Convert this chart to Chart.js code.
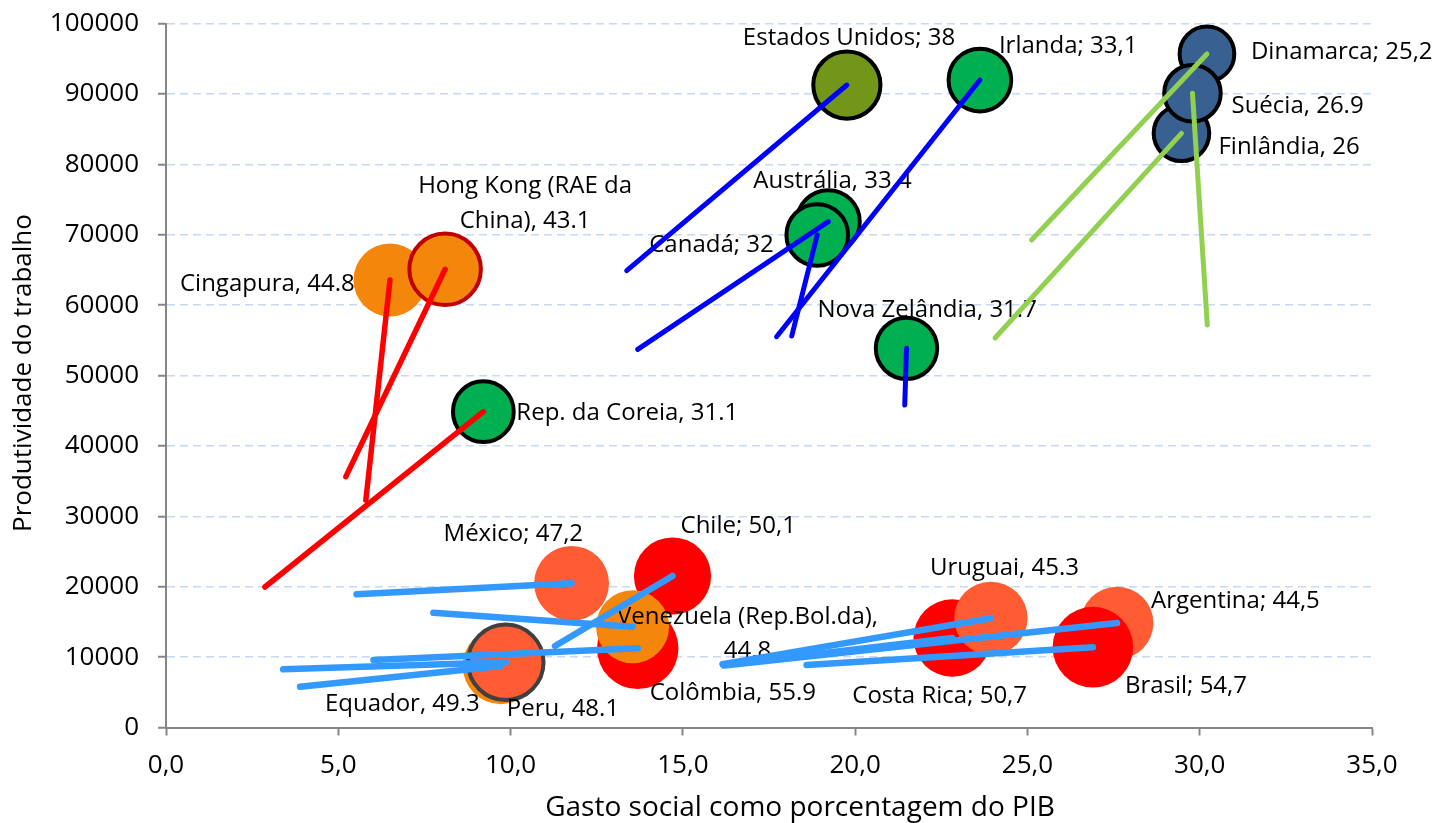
<!DOCTYPE html>
<html lang="pt">
<head>
<meta charset="utf-8">
<title>Gasto social e produtividade do trabalho</title>
<script src="https://cdn.jsdelivr.net/npm/chart.js@4.4.1/dist/chart.umd.min.js"></script>
<style>
  html, body { margin: 0; padding: 0; background: #ffffff; }
  canvas { display: block; }
</style>
</head>
<body>
<canvas id="chart" width="1439" height="823"></canvas>
<script>
// ---- Data -------------------------------------------------------------
const countries = [
  'Estados Unidos', 'Irlanda', 'Austrália', 'Canadá', 'Nova Zelândia',
  'Dinamarca', 'Finlândia', 'Suécia',
  'Cingapura', 'Hong Kong (RAE da\nChina)', 'Rep. da Coreia',
  'México', 'Chile', 'Colômbia', 'Venezuela (Rep.Bol.da)', 'Equador', 'Peru',
  'Costa Rica', 'Uruguai', 'Argentina', 'Brasil'
];
const groups = [
  'anglo', 'anglo', 'anglo', 'anglo', 'anglo',
  'nordic', 'nordic', 'nordic',
  'asia', 'asia', 'asia',
  'latam', 'latam', 'latam', 'latam', 'latam', 'latam',
  'latam', 'latam', 'latam', 'latam'
];
// social spending (% of GDP), latest year
const socialSpending = [
  19.76, 23.62, 19.22, 18.90, 21.49,
  30.21, 29.47, 29.79,
  6.50, 8.10, 9.21,
  11.77, 14.70, 13.69, 13.54, 9.72, 9.86,
  22.82, 23.94, 27.60, 26.90
];
// labour productivity, latest year
const productivity = [
  91260, 91970, 71850, 69960, 53860,
  95670, 84400, 90090,
  63570, 65090, 44860,
  20480, 21520, 11250, 14320, 8740, 9260,
  12710, 15510, 14840, 11410
];
// social spending (% of GDP), starting year
const startSpending = [
  13.37, 17.72, 13.69, 18.16, 21.44,
  25.12, 24.06, 30.22,
  5.80, 5.22, 2.87,
  5.53, 11.29, 6.02, 7.76, 3.89, 3.40,
  16.20, 16.15, 16.20, 18.59
];
// labour productivity, starting year
const startProductivity = [
  64900, 55510, 53720, 55610, 45810,
  69250, 55330, 57170,
  32320, 35630, 19960,
  18920, 11580, 9590, 16310, 5800, 8270,
  8900, 9000, 8800, 8880
];
// Gini index (bubble size)
const gini = [
  38, 33.1, 33.4, 32, 31.7,
  25.2, 26, 26.9,
  44.8, 43.1, 31.1,
  47.2, 50.1, 55.9, 44.8, 49.3, 48.1,
  50.7, 45.3, 44.5, 54.7
];
// label separator and decimal mark used in each country's label
const labelSeparator = [
  '; ', '; ', ', ', '; ', ', ',
  '; ', ', ', ', ',
  ', ', ', ', ', ',
  '; ', '; ', ', ', ',\n', ', ', ', ',
  '; ', ', ', '; ', '; '
];
const decimalMark = [
  ',', ',', '.', ',', '.',
  ',', '.', '.',
  '.', '.', '.',
  ',', ',', '.', '.', '.', '.',
  ',', '.', ',', ','
];
const xTicks = [0, 5, 10, 15, 20, 25, 30, 35];
const yTicks = [0, 10000, 20000, 30000, 40000, 50000, 60000, 70000, 80000, 90000, 100000];

// ---- Styles -----------------------------------------------------------
const lineStyle = {
  anglo:  { color: '#0000FF', width: 5 },
  nordic: { color: '#92D050', width: 5 },
  asia:   { color: '#FF0000', width: 5.5 },
  latam:  { color: '#3399FF', width: 6.5 }
};
const GREEN = '#00B050', NAVY = '#386192', ORANGE = '#F4870B', CORAL = '#FF5C33', RED = '#FF0000';
const bubbleStyle = {
  'Estados Unidos': { fill: '#72961A', border: '#000000', bw: 4 },
  'Irlanda':        { fill: GREEN, border: '#000000', bw: 4 },
  'Austrália':      { fill: GREEN, border: '#000000', bw: 4 },
  'Canadá':         { fill: GREEN, border: '#000000', bw: 4 },
  'Nova Zelândia':  { fill: GREEN, border: '#000000', bw: 4 },
  'Dinamarca':      { fill: NAVY, border: '#000000', bw: 4 },
  'Finlândia':      { fill: NAVY, border: '#000000', bw: 4 },
  'Suécia':         { fill: NAVY, border: '#000000', bw: 4 },
  'Cingapura':      { fill: ORANGE, border: ORANGE, bw: 0 },
  'Hong Kong (RAE da\nChina)': { fill: ORANGE, border: '#C00000', bw: 4 },
  'Rep. da Coreia': { fill: GREEN, border: '#000000', bw: 4 },
  'México':         { fill: CORAL, border: CORAL, bw: 0 },
  'Chile':          { fill: RED, border: RED, bw: 0 },
  'Colômbia':       { fill: RED, border: RED, bw: 0 },
  'Venezuela (Rep.Bol.da)': { fill: ORANGE, border: ORANGE, bw: 0 },
  'Equador':        { fill: ORANGE, border: ORANGE, bw: 0 },
  'Peru':           { fill: CORAL, border: '#404040', bw: 4 },
  'Costa Rica':     { fill: RED, border: RED, bw: 0 },
  'Uruguai':        { fill: CORAL, border: CORAL, bw: 0 },
  'Argentina':      { fill: CORAL, border: CORAL, bw: 0 },
  'Brasil':         { fill: RED, border: RED, bw: 0 }
};
// label anchor relative to the bubble centre: [dx, dy(baseline), align]
const labelPlacement = {
  'Estados Unidos': [-104, -40, 'left'],
  'Irlanda':        [19, -27, 'left'],
  'Austrália':      [-75, -34, 'left'],
  'Canadá':         [-168, 17, 'left'],
  'Nova Zelândia':  [-89, -31, 'left'],
  'Dinamarca':      [44, 5, 'left'],
  'Finlândia':      [37, 21, 'left'],
  'Suécia':         [39, 20, 'left'],
  'Cingapura':      [-210, 11, 'left'],
  'Hong Kong (RAE da\nChina)': [80, -76, 'center'],
  'Rep. da Coreia': [33, 8, 'left'],
  'México':         [-128, -42, 'left'],
  'Chile':          [8, -43, 'left'],
  'Colômbia':       [12, 52, 'left'],
  'Venezuela (Rep.Bol.da)': [115, -3, 'center'],
  'Equador':        [-176, 45, 'left'],
  'Peru':           [1, 54, 'left'],
  'Costa Rica':     [-100, 65, 'left'],
  'Uruguai':        [-61, -43, 'left'],
  'Argentina':      [34, -15, 'left'],
  'Brasil':         [32, 46, 'left']
};
const BUBBLE_SCALE = 5.45;
const FONT = '"Open Sans", Lato, sans-serif';

function labelFor(i) {
  return countries[i] + labelSeparator[i] + String(gini[i]).replace('.', decimalMark[i]);
}

// ---- Datasets ---------------------------------------------------------
const bubbleDataset = {
  type: 'bubble',
  order: 2,
  clip: false,
  data: countries.map((c, i) => ({ x: socialSpending[i], y: productivity[i], r: BUBBLE_SCALE * Math.sqrt(gini[i]) })),
  backgroundColor: countries.map(c => bubbleStyle[c].fill),
  borderColor: countries.map(c => bubbleStyle[c].border),
  borderWidth: countries.map(c => bubbleStyle[c].bw)
};
const pathDatasets = countries.map((c, i) => ({
  type: 'line',
  order: 1,
  data: [
    { x: startSpending[i], y: startProductivity[i] },
    { x: socialSpending[i], y: productivity[i] }
  ],
  borderColor: lineStyle[groups[i]].color,
  borderWidth: lineStyle[groups[i]].width,
  borderCapStyle: 'round',
  pointRadius: 0,
  fill: false,
  tension: 0
}));

// ---- Plugins ----------------------------------------------------------
const countryLabels = {
  id: 'countryLabels',
  afterDatasetDraw(chart, args) {
    if (args.index !== 0) return;
    const ctx = chart.ctx;
    ctx.save();
    ctx.font = '24px ' + FONT;
    ctx.fillStyle = '#000000';
    ctx.textBaseline = 'alphabetic';
    args.meta.data.forEach((pt, i) => {
      const [dx, dy, align] = labelPlacement[countries[i]];
      ctx.textAlign = align;
      labelFor(i).split('\n').forEach((line, k) => {
        ctx.fillText(line, pt.x + dx, pt.y + dy + k * 34.4);
      });
    });
    ctx.restore();
  }
};
const axisTitles = {
  id: 'axisTitles',
  afterDraw(chart) {
    const ctx = chart.ctx;
    ctx.save();
    ctx.fillStyle = '#000000';
    ctx.textAlign = 'center';
    ctx.textBaseline = 'middle';
    ctx.font = '28px ' + FONT;
    ctx.fillText('Gasto social como porcentagem do PIB', 800, 808);
    ctx.font = '26px ' + FONT;
    ctx.translate(24, 373);
    ctx.rotate(-Math.PI / 2);
    ctx.fillText('Produtividade do trabalho', 0, 0);
    ctx.restore();
  }
};

// ---- Chart ------------------------------------------------------------
new Chart(document.getElementById('chart'), {
  data: { datasets: [bubbleDataset, ...pathDatasets] },
  plugins: [countryLabels, axisTitles],
  options: {
    responsive: false,
    devicePixelRatio: 1,
    animation: false,
    events: [],
    layout: { autoPadding: false, padding: { left: 0, right: 67, top: 23.5, bottom: 0 } },
    plugins: { legend: { display: false }, tooltip: { enabled: false } },
    scales: {
      x: {
        type: 'linear',
        min: xTicks[0],
        max: xTicks[xTicks.length - 1],
        afterBuildTicks(scale) { scale.ticks = xTicks.map(v => ({ value: v })); },
        afterFit(scale) { scale.height = 95.5; scale.paddingLeft = 0; scale.paddingRight = 0; },
        ticks: {
          color: '#000000',
          font: { family: FONT, size: 26 },
          padding: 14,
          callback: v => v.toFixed(1).replace('.', ',')
        },
        grid: { drawOnChartArea: false, tickColor: '#868686', tickLength: 8, tickWidth: 2 },
        border: { color: '#868686', width: 2 }
      },
      y: {
        type: 'linear',
        min: yTicks[0],
        max: yTicks[yTicks.length - 1],
        afterBuildTicks(scale) { scale.ticks = yTicks.map(v => ({ value: v })); },
        afterFit(scale) { scale.width = 166; scale.paddingTop = 0; scale.paddingBottom = 0; },
        ticks: {
          color: '#000000',
          font: { family: FONT, size: 26 },
          padding: 19,
          callback: v => String(v)
        },
        grid: { color: '#C8D8F5', lineWidth: 1.5, tickColor: '#868686', tickLength: 8, tickWidth: 2 },
        border: { color: '#868686', width: 2, dash: [8, 5] }
      }
    }
  }
});
</script>
</body>
</html>
